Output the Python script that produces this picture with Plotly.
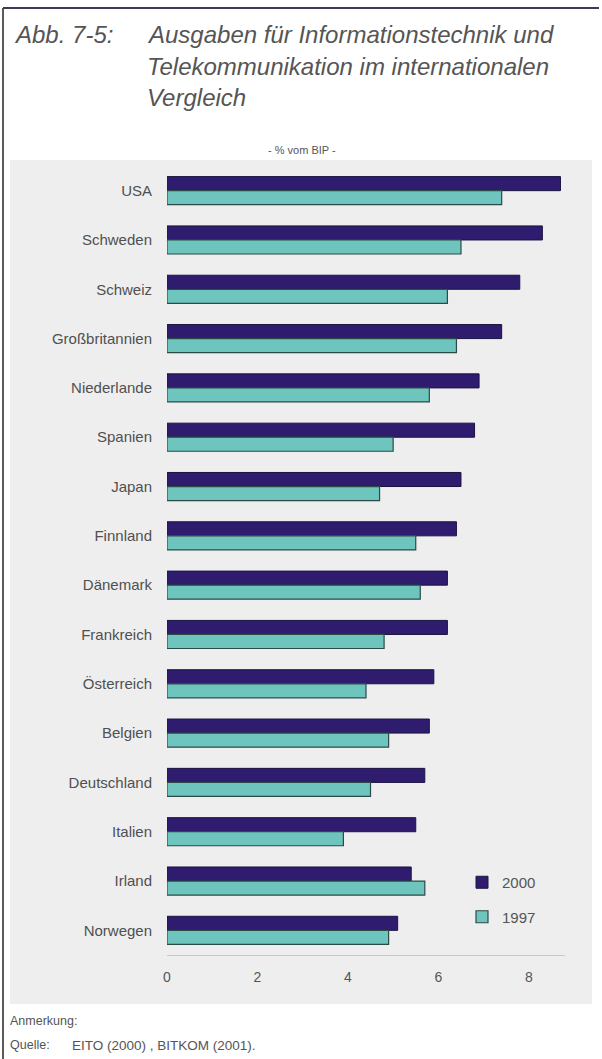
import plotly.graph_objects as go

# Ausgaben für IT und Telekommunikation, % vom BIP
countries = ["USA", "Schweden", "Schweiz", "Großbritannien", "Niederlande", "Spanien",
             "Japan", "Finnland", "Dänemark", "Frankreich", "Österreich", "Belgien",
             "Deutschland", "Italien", "Irland", "Norwegen"]
values_2000 = [8.7, 8.3, 7.8, 7.4, 6.9, 6.8, 6.5, 6.4, 6.2, 6.2, 5.9, 5.8, 5.7, 5.5, 5.4, 5.1]
values_1997 = [7.4, 6.5, 6.2, 6.4, 5.8, 5.0, 4.7, 5.5, 5.6, 4.8, 4.4, 4.9, 4.5, 3.9, 5.7, 4.9]
x_ticks = [0, 2, 4, 6, 8]

W, H = 602, 1059
L, R, T, B = 167, 37, 166, 104
PW, PH = W - L - R, H - T - B

FONT = "Liberation Sans, Arial, sans-serif"
TXT = "#555555"


def px(x):
    return (x - L) / PW


def py(y):
    return (H - B - y) / PH


fig = go.Figure()
fig.add_trace(go.Bar(
    y=countries, x=values_2000, name="2000", orientation="h", legendgroup="a",
    marker=dict(color="#2f1c6f", line=dict(color="#1a1440", width=1)),
))
fig.add_trace(go.Bar(
    y=countries, x=values_1997, name="1997", orientation="h", legendgroup="b",
    marker=dict(color="#6ec5bd", line=dict(color="#2c4a48", width=1.2)),
))

TITLE_SIZE = 24
annotations = [
    dict(text="<i>Abb. 7-5:</i>", x=px(12), y=py(35), xanchor="left", yanchor="middle",
         font=dict(size=TITLE_SIZE, color=TXT, family=FONT)),
    dict(text="<i>Ausgaben für Informationstechnik und</i>", x=px(145), y=py(35),
         xanchor="left", yanchor="middle", font=dict(size=TITLE_SIZE, color=TXT, family=FONT)),
    dict(text="<i>Telekommunikation im internationalen</i>", x=px(145), y=py(66),
         xanchor="left", yanchor="middle", font=dict(size=TITLE_SIZE, color=TXT, family=FONT)),
    dict(text="<i>Vergleich</i>", x=px(145), y=py(97),
         xanchor="left", yanchor="middle", font=dict(size=TITLE_SIZE, color=TXT, family=FONT)),
    dict(text="- % vom BIP -", x=px(302), y=py(150), xanchor="center", yanchor="middle",
         font=dict(size=11, color=TXT, family=FONT)),
    dict(text="Anmerkung:", x=px(8), y=py(1021), xanchor="left", yanchor="middle",
         font=dict(size=12.5, color=TXT, family=FONT)),
    dict(text="Quelle:", x=px(8), y=py(1045), xanchor="left", yanchor="middle",
         font=dict(size=12.5, color=TXT, family=FONT)),
    dict(text="EITO (2000) , BITKOM (2001).", x=px(70), y=py(1045),
         xanchor="left", yanchor="middle", font=dict(size=13.5, color=TXT, family=FONT)),
]
for a in annotations:
    a.update(xref="paper", yref="paper", showarrow=False)

shapes = [
    # light grey panel behind the chart
    dict(type="rect", xref="paper", yref="paper", x0=px(10), x1=px(592), y0=py(160), y1=py(1004),
         fillcolor="#eeeeef", line=dict(width=0), layer="below"),
    # frame lines
    dict(type="line", xref="paper", yref="paper", x0=px(3), x1=px(3), y0=py(8), y1=py(1059),
         line=dict(color="#5a5a5a", width=2)),
    dict(type="line", xref="paper", yref="paper", x0=px(3), x1=px(599), y0=py(8), y1=py(8),
         line=dict(color="#3e3a5c", width=2)),
]

fig.update_layout(
    width=W, height=H,
    margin=dict(l=L, r=R, t=T, b=B),
    paper_bgcolor="#ffffff",
    plot_bgcolor="rgba(0,0,0,0)",
    barmode="group", bargap=0.43, bargroupgap=0.0,
    font=dict(family=FONT, color=TXT, size=14),
    showlegend=True,
    legend=dict(x=px(462), y=py(866), xanchor="left", yanchor="top",
                traceorder="grouped", tracegroupgap=12,
                bgcolor="rgba(0,0,0,0)", font=dict(size=15, color=TXT, family=FONT),
                itemwidth=30),
    annotations=annotations,
    shapes=shapes,
)
fig.update_xaxes(range=[0, 8.8], tickvals=x_ticks, showgrid=False, zeroline=False,
                 showline=True, linecolor="#c9c9cc", linewidth=1,
                 ticks="", ticklabelstandoff=9,
                 tickfont=dict(size=14, color=TXT, family=FONT))
fig.update_yaxes(autorange="reversed", showgrid=False, zeroline=False, showline=False,
                 ticks="", ticklabelstandoff=14,
                 tickfont=dict(size=15, color="#505050", family=FONT))

fig.write_html("out.html")
